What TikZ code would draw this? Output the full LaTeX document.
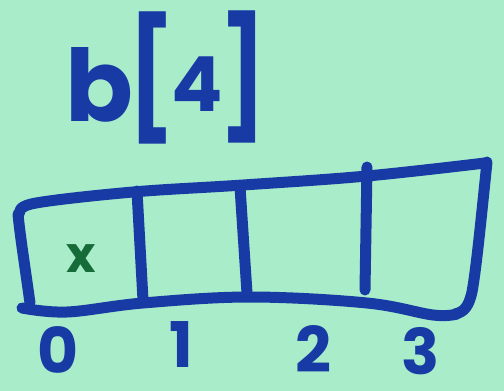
\documentclass[tikz,border=0pt]{standalone}
\usepackage{fontspec}
\setmainfont{Poppins}
\definecolor{bg}{RGB}{168,236,202}
\definecolor{ink}{RGB}{24,58,165}
\definecolor{xgreen}{RGB}{22,108,56}
\begin{document}
\begin{tikzpicture}[x=1pt,y=-1pt,
  pen/.style={draw=ink,line width=11pt,line cap=round,line join=round},
  big/.style={text=ink,font=\bfseries\fontsize{100}{100}\selectfont,inner sep=0pt},
  digit/.style={text=ink,font=\bfseries\fontsize{63}{63}\selectfont,inner sep=0pt}]
\fill[bg] (0,0) rectangle (504,391);
\useasboundingbox (0,0) rectangle (504,391);
% title
\node[big] (tb) at (99,85) {b};
\node[big] (tl) at (151,78) {\scalebox{0.9}[1.18]{[}};
\node[big,font=\bfseries\fontsize{76}{76}\selectfont] (t4) at (197,84) {4};
\node[big] (tr) at (243,77) {\scalebox{0.9}[1.18]{]}};
% array outline
\draw[pen] (30,303) .. controls (24,260) and (20,235) .. (18,214);
\draw[pen] plot[smooth,tension=0.6] coordinates {(20,212) (36,203) (133,192) (243,185) (367,176) (485,163)};
\draw[pen] (487,162) .. controls (480,230) and (476,270) .. (472,292) .. controls (469,305) and (465,312) .. (455,314);
\draw[pen] plot[smooth,tension=0.6] coordinates {(22,308) (67,312) (143,303) (250,297) (367,303) (433,315) (457,314)};
% dividers
\draw[pen] (137,191) -- (143,300);
\draw[pen] (240,187) -- (247,293);
\draw[pen] (367,167) -- (365,290);
% content
\node[text=xgreen,font=\bfseries\fontsize{50}{50}\selectfont,inner sep=0pt] (x) at (81,259) {x};
% indices
\node[digit] (i0) at (58,350) {0};
\node[digit] (i1) at (181,345) {1};
\node[digit] (i2) at (313,349) {2};
\node[digit] (i3) at (421,351) {3};
\end{tikzpicture}
\end{document}
